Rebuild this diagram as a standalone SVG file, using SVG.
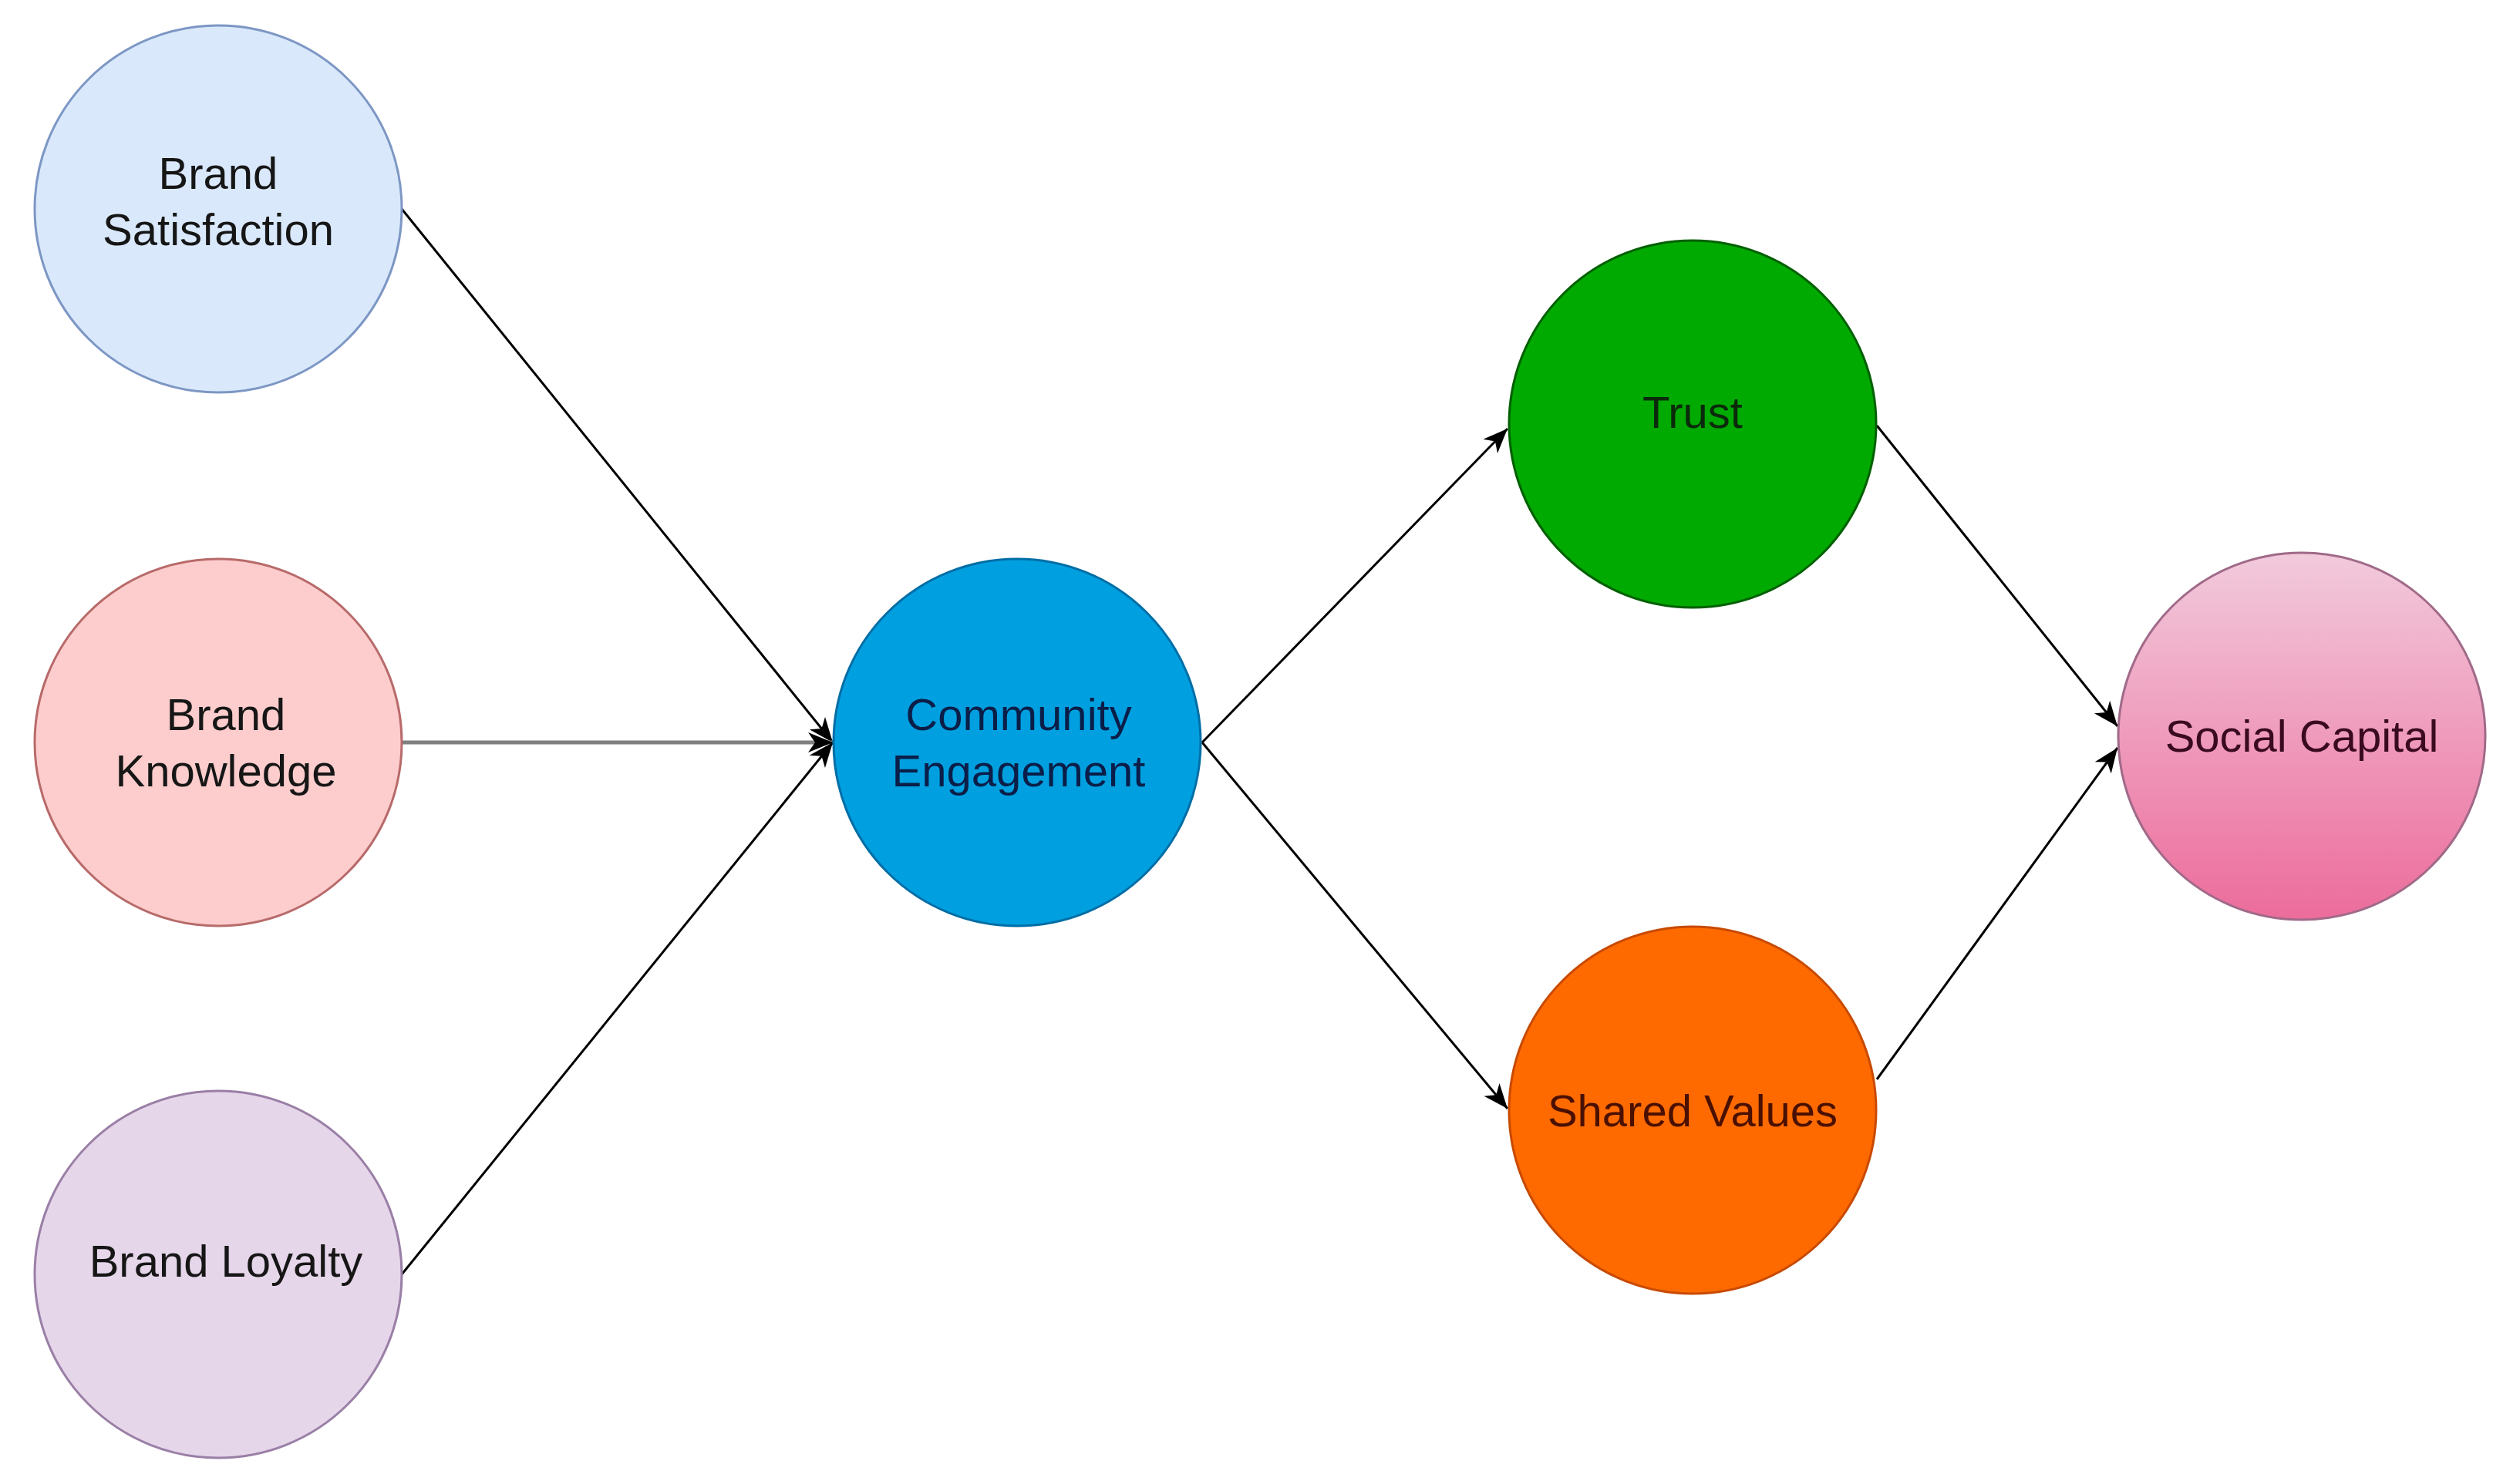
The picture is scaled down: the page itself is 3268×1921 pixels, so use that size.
<svg xmlns="http://www.w3.org/2000/svg" width="3268" height="1921" viewBox="0 0 3268 1921">
<style>
.lbl{font-family:"Liberation Sans",Arial,sans-serif;font-size:58px;text-anchor:middle;fill:#161616}
.edge{fill:none;stroke:#000;stroke-width:3}
.node circle{stroke-width:3}
</style>
<defs>
<marker id="arr" markerUnits="userSpaceOnUse" markerWidth="34" markerHeight="28" refX="32" refY="13" orient="auto" viewBox="0 0 34 26">
<path d="M0,0 L32,13 L0,26 L9,13 Z" fill="#000"/>
</marker>
<linearGradient id="pinkGrad" x1="0" y1="0" x2="0" y2="1">
<stop offset="0" stop-color="#f2cadc"/>
<stop offset="1" stop-color="#ec6c9b"/>
</linearGradient>
</defs>
<rect width="3268" height="1921" fill="#fff"/>
<g id="connectors">
<line class="edge" x1="521" y1="271" x2="1080" y2="963" marker-end="url(#arr)"/>
<line class="edge" x1="521" y1="963" x2="1080" y2="963" stroke="#808080" style="stroke:#808080;stroke-width:5" marker-end="url(#arr)"/>
<line class="edge" x1="521" y1="1653" x2="1080" y2="963" marker-end="url(#arr)"/>
<line class="edge" x1="1559" y1="963" x2="1955" y2="556" marker-end="url(#arr)"/>
<line class="edge" x1="1559" y1="963" x2="1955" y2="1438" marker-end="url(#arr)"/>
<line class="edge" x1="2434" y1="552" x2="2746" y2="942" marker-end="url(#arr)"/>
<line class="edge" x1="2434" y1="1400" x2="2746" y2="970" marker-end="url(#arr)"/>
</g>
<g id="brand-satisfaction" class="node">
<circle cx="283" cy="271" r="238" fill="#d9e8fb" stroke="#7d97c4"/>
<text class="lbl" x="283" y="245">Brand</text>
<text class="lbl" x="283" y="318">Satisfaction</text>
</g>
<g id="brand-knowledge" class="node">
<circle cx="283" cy="963" r="238" fill="#fccdcc" stroke="#b86a6a"/>
<text class="lbl" x="293" y="947">Brand</text>
<text class="lbl" x="293" y="1020">Knowledge</text>
</g>
<g id="brand-loyalty" class="node">
<circle cx="283" cy="1653" r="238" fill="#e6d6ea" stroke="#9a7fa6"/>
<text class="lbl" x="293" y="1656">Brand Loyalty</text>
</g>
<g id="community-engagement" class="node">
<circle cx="1319" cy="963" r="238" fill="#00a0e0" stroke="#006ea6"/>
<text class="lbl" x="1321" y="947" style="fill:#0a1e48">Community</text>
<text class="lbl" x="1321" y="1020" style="fill:#0a1e48">Engagement</text>
</g>
<g id="trust" class="node">
<circle cx="2195" cy="550" r="238" fill="#00aa00" stroke="#006000"/>
<text class="lbl" x="2195" y="555" style="fill:#0b2a0b">Trust</text>
</g>
<g id="shared-values" class="node">
<circle cx="2195" cy="1440" r="238" fill="#ff6a00" stroke="#c84a00"/>
<text class="lbl" x="2195" y="1461" style="fill:#4a1000">Shared Values</text>
</g>
<g id="social-capital" class="node">
<circle cx="2985" cy="955" r="238" fill="url(#pinkGrad)" stroke="#a06a88"/>
<text class="lbl" x="2985" y="975" style="fill:#3a0a20">Social Capital</text>
</g>
</svg>
